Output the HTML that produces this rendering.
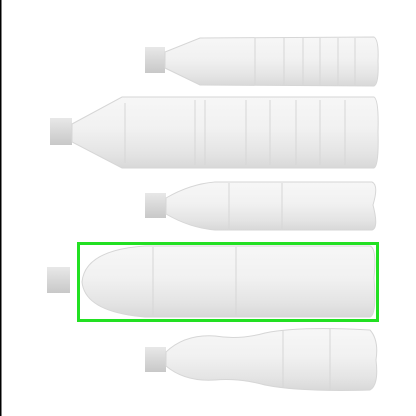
<!DOCTYPE html>
<html><head><meta charset="utf-8"><style>
html,body{margin:0;padding:0;background:#fff;width:416px;height:416px;overflow:hidden}
</style></head><body>
<svg width="416" height="416" viewBox="0 0 416 416" xmlns="http://www.w3.org/2000/svg">
<defs>
<linearGradient id="g" x1="0" y1="0" x2="0" y2="1">
<stop offset="0" stop-color="#f7f7f7"/><stop offset="0.45" stop-color="#f1f1f1"/><stop offset="0.8" stop-color="#e4e4e4"/><stop offset="1" stop-color="#d8d8d8"/>
</linearGradient>
<linearGradient id="c" x1="0" y1="0" x2="0" y2="1">
<stop offset="0" stop-color="#e8e8e8"/><stop offset="1" stop-color="#c8c8c8"/>
</linearGradient>
</defs>
<rect x="0" y="0" width="1.5" height="416" fill="#000"/>
<g stroke="#d6d6d6" stroke-width="1" fill="url(#g)">
<!-- bottle 1 -->
<rect x="145" y="47" width="20" height="26" fill="url(#c)" stroke="none"/>
<path d="M165 52 L200 38 L374 37 Q379 40 378 61 Q379 84 374 86 L200 85 L165 68 Z"/>
<path d="M255 38 V85 M284 38 V85 M303 38 V85 M320 38 V85 M338 38 V85 M355 38 V85" fill="none"/>
<!-- bottle 2 -->
<rect x="50" y="118" width="22" height="27" fill="url(#c)" stroke="none"/>
<path d="M72 124 L122 97 L374 97 Q379 100 378 132 Q379 166 374 168 L122 168 L72 142 Z"/>
<path d="M125 103 V163 M195 100 V165 M205 100 V165 M246 100 V165 M270 100 V165 M296 100 V165 M320 100 V165 M345 100 V165" fill="none"/>
<!-- bottle 3 -->
<rect x="145" y="193" width="21" height="25" fill="url(#c)" stroke="none"/>
<path d="M166 198 Q190 184 215 182 L372 182 Q379 185 373 205 Q379 228 372 230 L215 230 Q190 228 166 214 Z"/>
<path d="M229 183 V229 M282 183 V229" fill="none"/>
<!-- bottle 4 -->
<rect x="47" y="267" width="23" height="26" fill="url(#c)" stroke="none"/>
<path d="M82 282 Q85 250 145 246 L370 246 Q377 248 374 278 Q377 315 370 317 L145 317 Q85 312 82 282 Z"/>
<path d="M153 247 V316 M236 247 V316" fill="none"/>
<!-- bottle 5 -->
<rect x="145" y="347" width="21" height="25" fill="url(#c)" stroke="none"/>
<path d="M166 352 Q185 334 215 336 Q240 340 265 333 Q300 326 370 330 Q379 340 376 360 Q379 385 370 390 Q300 392 265 385 Q240 378 215 380 Q185 382 166 366 Z"/>
<path d="M283 330 V388 M330 329 V390" fill="none"/>
</g>
<rect x="78.5" y="243.5" width="299" height="77" fill="none" stroke="#22e022" stroke-width="3"/>
</svg>
</body></html>
